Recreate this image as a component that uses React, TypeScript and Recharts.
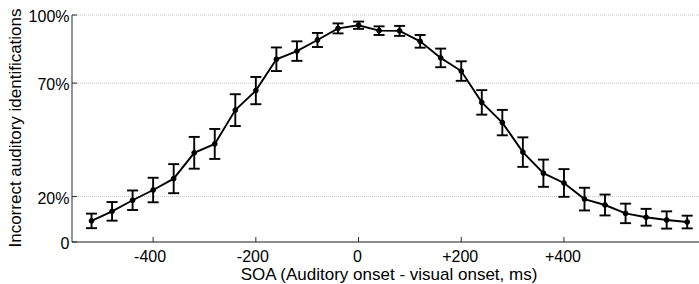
import React from "react"
import { LineChart, Line, XAxis, YAxis, CartesianGrid, ErrorBar } from "recharts"

// SOA in ms (auditory onset - visual onset)
const soa = [
  -520, -480, -440, -400, -360, -320, -280, -240, -200, -160, -120, -80, -40, 0, 40,
  80, 120, 160, 200, 240, 280, 320, 360, 400, 440, 480, 520, 560, 600, 640,
]
// % incorrect auditory identifications
const pctIncorrect = [
  9.3, 13.5, 18.4, 22.9, 27.9, 39.3, 43.2, 58.1, 66.7, 80.5, 84.1, 89.0, 94.1, 95.5, 93.1,
  93.0, 88.4, 81.1, 75.3, 61.5, 52.6, 39.6, 30.3, 26.0, 18.9, 16.3, 12.6, 10.9, 9.7, 8.8,
]
const errBar = [
  3.2, 4.1, 4.3, 5.4, 6.4, 7.0, 6.6, 7.0, 6.0, 5.2, 4.3, 3.1, 2.2, 1.6, 1.9,
  2.2, 2.8, 4.1, 4.3, 5.4, 5.6, 6.5, 6.0, 6.1, 5.0, 4.6, 4.3, 3.7, 3.8, 2.8,
]

const xTicks = [-400, -200, 0, 200, 400]
const xTickLabels = ["-400", "-200", "0", "+200", "+400"]
const yTicks = [0, 20, 70, 100]
const yTickLabels = ["0", "20%", "70%", "100%"]

const FONT = '"Liberation Sans", Arial, Helvetica, sans-serif'
const AXIS = "#2b2b2b"

const data = soa.map((s, i) => ({ soa: s, pct: pctIncorrect[i], err: errBar[i] }))

function XTick(props: any) {
  const { x, y, payload } = props
  const i = xTicks.indexOf(payload.value)
  const dx = payload.value < 0 ? -3 : -1
  return (
    <g>
      <line x1={x} x2={x} y1={y} y2={y - 5} stroke={AXIS} strokeWidth={1} />
      <text x={x + dx} y={y + 20} textAnchor="middle" fontSize={16} fontFamily={FONT} fill="#000">
        {xTickLabels[i]}
      </text>
    </g>
  )
}

function YTick(props: any) {
  const { x, y, payload } = props
  const i = yTicks.indexOf(payload.value)
  return (
    <g>
      <line x1={x} x2={x + 5} y1={y} y2={y} stroke={AXIS} strokeWidth={1} />
      <text x={x - 2.5} y={y + 7} textAnchor="end" fontSize={16} fontFamily={FONT} fill="#000">
        {yTickLabels[i]}
      </text>
    </g>
  )
}

export default function App() {
  return (
    <div style={{ position: "absolute", left: 0, top: 0, width: 699, height: 284, background: "#fff" }}>
      <LineChart width={699} height={284} data={data} margin={{ top: 15, right: 0, bottom: 0, left: 0 }}>
        <CartesianGrid vertical={false} stroke="#c4c4c4" strokeDasharray="1 1" />
        <XAxis
          dataKey="soa"
          type="number"
          domain={[-558, 663]}
          allowDataOverflow
          ticks={xTicks}
          height={42}
          tickSize={0}
          tickMargin={0}
          tickLine={false}
          axisLine={{ stroke: AXIS, strokeWidth: 1 }}
          tick={<XTick />}
          label={{
            content: (p: any) => {
              const vb = p.viewBox || { x: 72, y: 242, width: 627 }
              return (
                <text x={vb.x + vb.width / 2 + 3.5} y={vb.y + 38} textAnchor="middle" fontSize={17} fontFamily={FONT} fill="#000">
                  SOA (Auditory onset - visual onset, ms)
                </text>
              )
            },
          }}
        />
        <YAxis
          type="number"
          domain={[0, 100]}
          ticks={yTicks}
          width={72}
          tickSize={0}
          tickMargin={0}
          tickLine={false}
          axisLine={{ stroke: AXIS, strokeWidth: 1 }}
          tick={<YTick />}
          label={{
            content: () => (
              <text
                x={20.5}
                y={128}
                transform="rotate(-90 20.5 128)"
                textAnchor="middle"
                fontSize={17}
                fontFamily={FONT}
                fill="#000"
              >
                Incorrect auditory identifications
              </text>
            ),
          }}
        />
        <Line
          dataKey="pct"
          type="linear"
          stroke="#000"
          strokeWidth={1.9}
          dot={{ r: 2.4, fill: "#000", stroke: "#000", strokeWidth: 1 }}
          isAnimationActive={false}
        >
          <ErrorBar dataKey="err" direction="y" width={5.5} stroke="#000" strokeWidth={1.9} isAnimationActive={false} />
        </Line>
      </LineChart>
    </div>
  )
}
